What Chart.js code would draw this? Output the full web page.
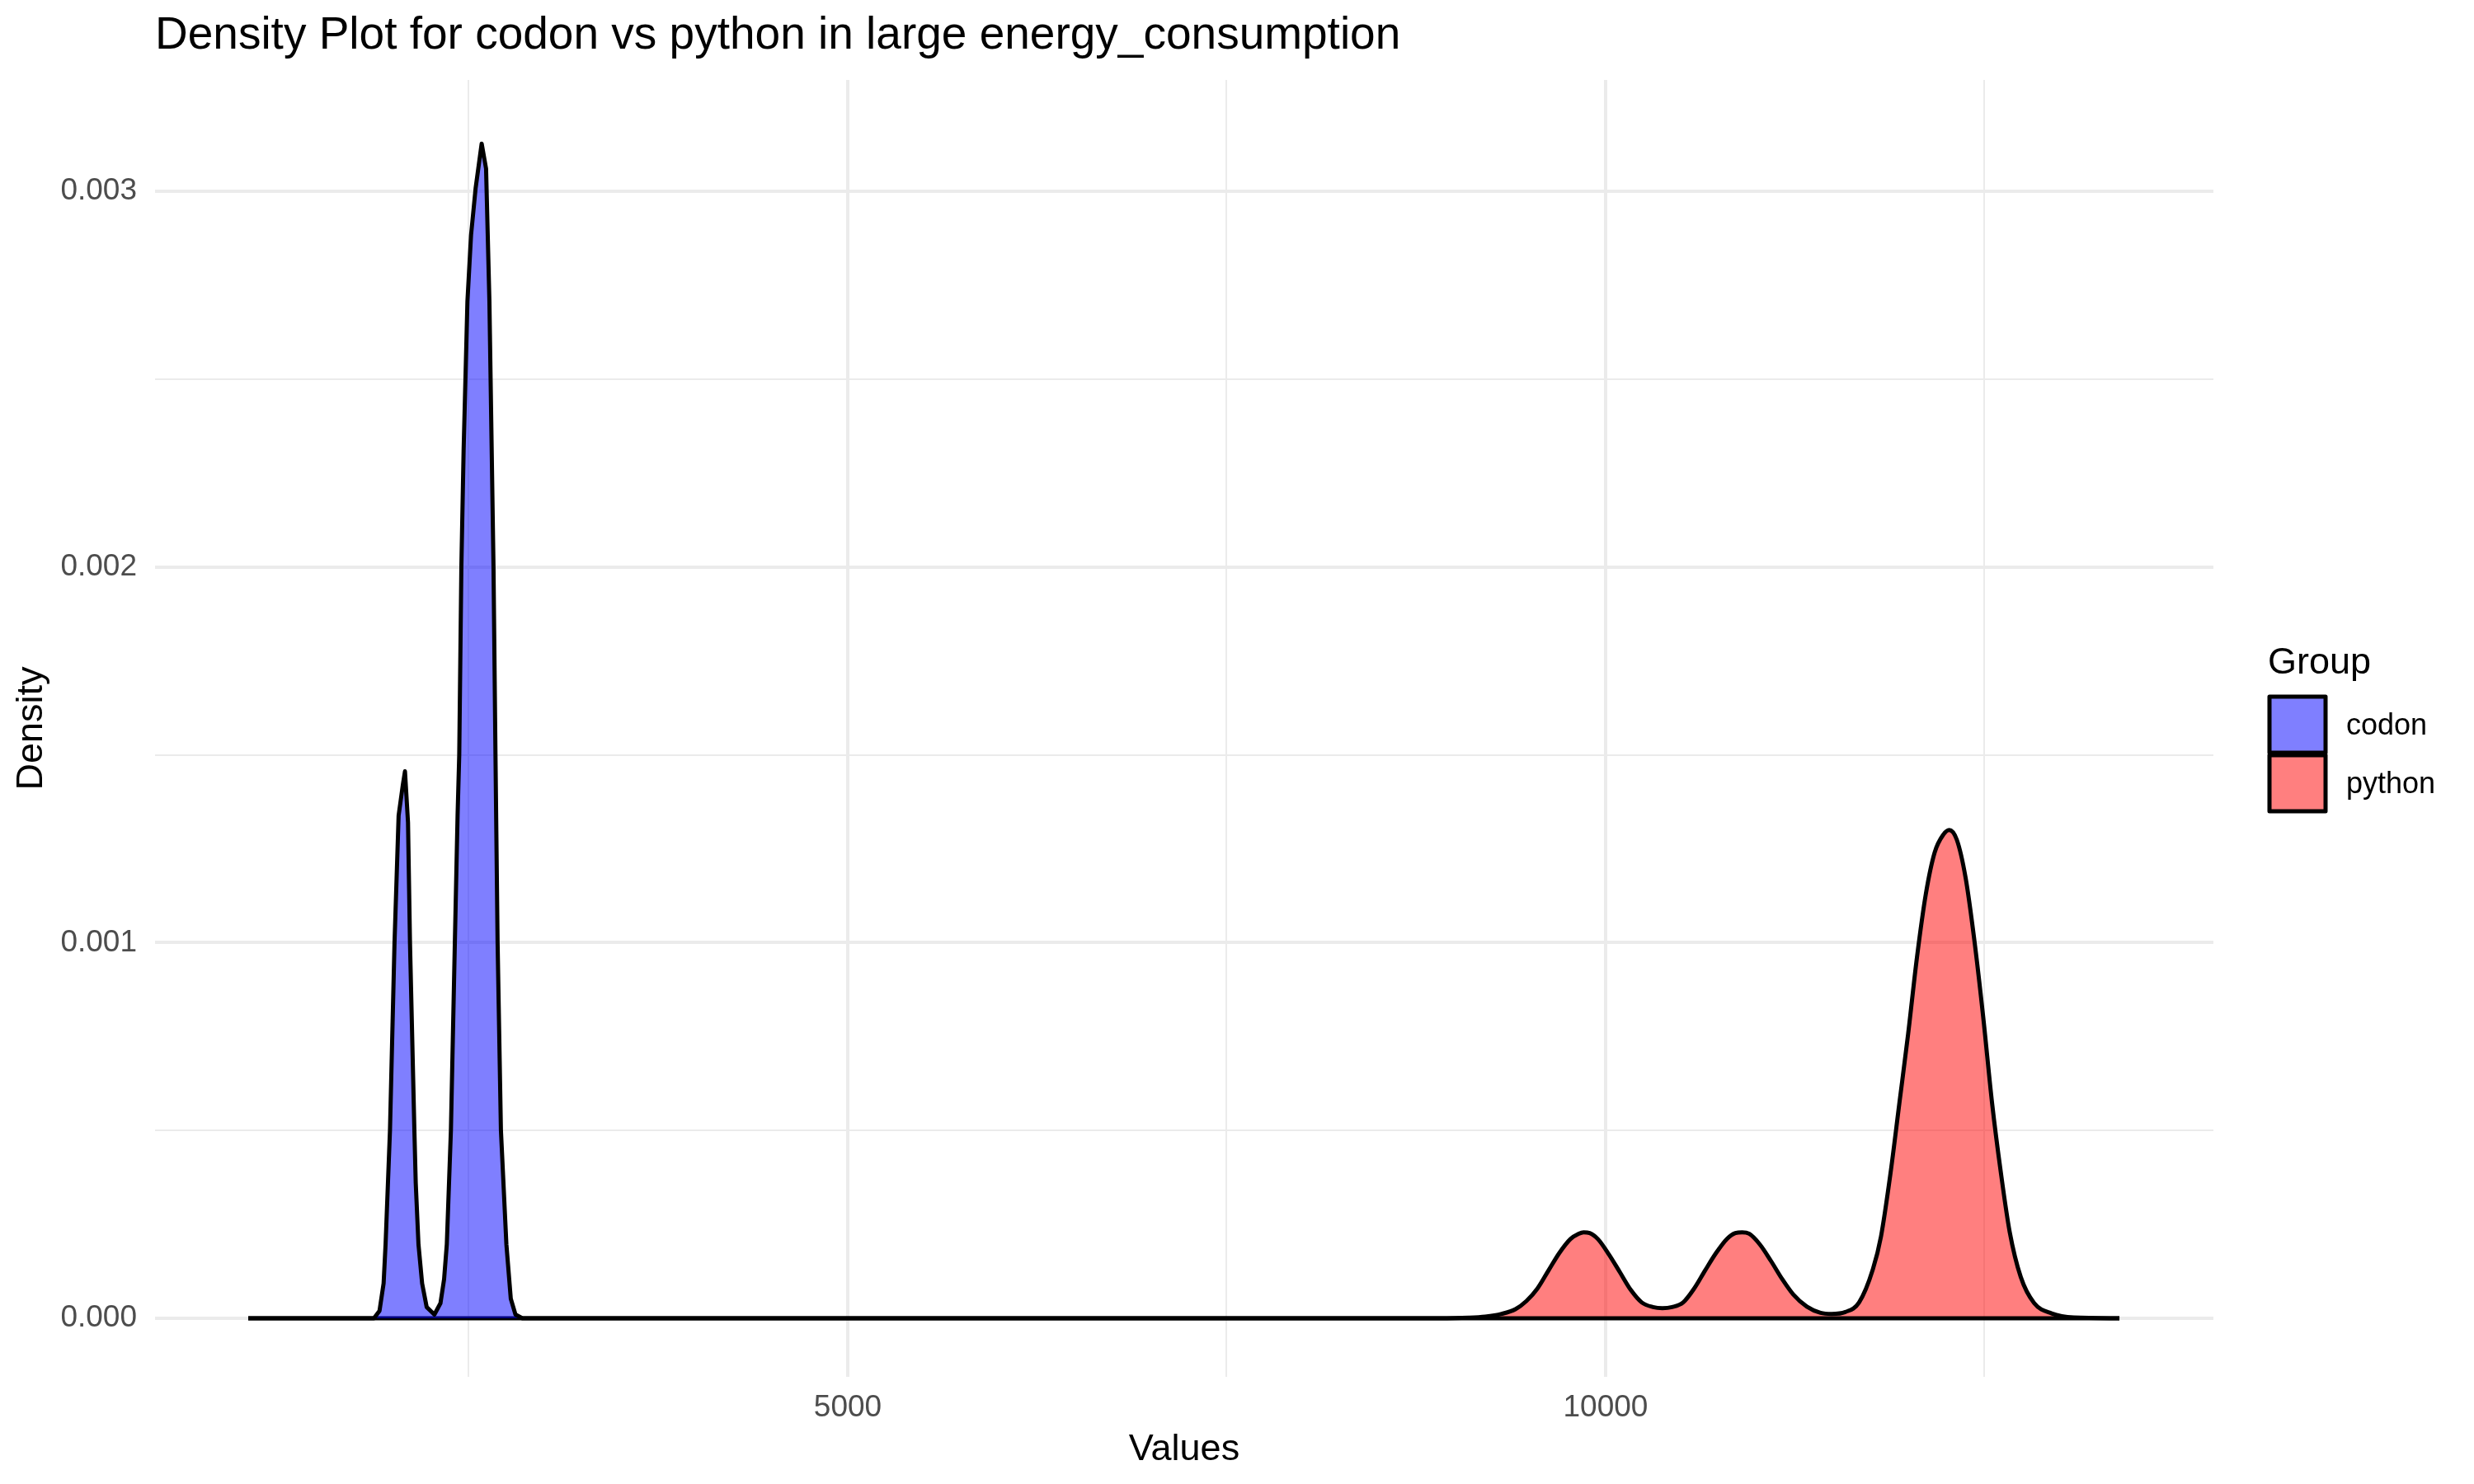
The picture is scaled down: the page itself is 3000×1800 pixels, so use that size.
<!DOCTYPE html>
<html lang="en">
<head>
  <meta charset="UTF-8" />
  <title>Density Plot for codon vs python</title>
  <script src="https://cdn.jsdelivr.net/npm/chart.js"></script>
  <style>
    body { margin: 0; background: #fff; }
    #densityChart { display: block; }
  </style>
</head>
<body>
  <canvas id="densityChart" width="3000" height="1800"></canvas>

  <script>
    // Values
    const groups = ['codon', 'python'];
    const legendTitle = 'Group';

    const codonX = [1045, 1874, 1911, 1938, 1951, 1980, 2010, 2037, 2065, 2079, 2099, 2112, 2141, 2150, 2168, 2192, 2222, 2273,
      2313, 2337, 2355, 2382, 2408, 2426, 2437, 2451, 2466, 2491, 2515, 2545, 2585, 2614, 2636, 2663, 2676, 2690, 2712,
      2748, 2777, 2808, 2854, 13390];
    const codonY = [0, 0, 0.00002, 0.000093, 0.000197, 0.0005, 0.001, 0.001338, 0.00142, 0.001456, 0.00132, 0.001, 0.0005,
      0.00036, 0.000197, 0.000093, 0.00003, 0.00001, 0.00004, 0.000104, 0.000197, 0.0005, 0.001, 0.001338, 0.0015, 0.002,
      0.002313, 0.002707, 0.002884, 0.003008, 0.003127, 0.00306, 0.002707, 0.002, 0.0015, 0.001, 0.0005, 0.000197,
      0.000052, 0.00001, 0, 0];

    const pythonX = [1045, 8900, 9097, 9206, 9314, 9405, 9478, 9550, 9623, 9695, 9768, 9822, 9855, 9895, 9949, 10022, 10094,
      10167, 10239, 10312, 10375, 10439, 10511, 10584, 10656, 10729, 10802, 10856, 10901, 10947, 11019, 11092, 11164,
      11237, 11328, 11418, 11491, 11582, 11672, 11763, 11817, 11880, 11938, 11996, 12054, 12113, 12171, 12229, 12267,
      12317, 12375, 12433, 12491, 12550, 12608, 12666, 12739, 12827, 12943, 13089, 13390];
    const pythonY = [0, 0, 0.0000015, 0.0000044, 0.0000117, 0.0000241, 0.000046, 0.000079, 0.000127, 0.000174, 0.000211,
      0.000225, 0.000229, 0.000227, 0.000211, 0.00017, 0.000123, 0.000075, 0.000042, 0.00003, 0.000027, 0.00003, 0.000042,
      0.000079, 0.000127, 0.000174, 0.000212, 0.000227, 0.000229, 0.000225, 0.000196, 0.000152, 0.000105, 0.000064,
      0.000031, 0.0000146, 0.0000117, 0.0000168, 0.000042, 0.00013, 0.000218, 0.000387, 0.000572, 0.000757, 0.00096,
      0.00113, 0.00124, 0.001288, 0.0013, 0.001274, 0.001173, 0.001006, 0.000803, 0.000572, 0.000387, 0.00023, 0.00011,
      0.0000407, 0.000013, 0.000002, 0];

    // Axis breaks (major ones get a label, the rest are minor grid lines)
    const xTicks = [2500, 5000, 7500, 10000, 12500];
    const xLabelTicks = [5000, 10000];
    const yTicks = [0, 0.0005, 0.001, 0.0015, 0.002, 0.0025, 0.003];
    const yLabelTicks = [0, 0.001, 0.002, 0.003];

    const toPoints = (xs, ys) => xs.map((x, i) => ({ x: x, y: ys[i] }));
    const isMajor = (list, v) => list.some(t => Math.abs(t - v) < 1e-9);

    const FONT = '"Liberation Sans", Arial, Helvetica, sans-serif';
    const GRID = '#EBEBEB';

    // ggplot-style legend on the right
    const sideLegend = {
      id: 'sideLegend',
      afterDraw(chart) {
        const ctx = chart.ctx;
        ctx.save();
        ctx.fillStyle = '#000';
        ctx.font = '45px ' + FONT;
        ctx.textAlign = 'left';
        ctx.textBaseline = 'alphabetic';
        ctx.fillText(legendTitle, 2750, 817);
        chart.data.datasets.forEach((ds, i) => {
          const top = 845 + i * 71;
          ctx.fillStyle = ds.backgroundColor;
          ctx.fillRect(2752, top, 68, 68);
          ctx.lineWidth = 5;
          ctx.lineJoin = 'round';
          ctx.strokeStyle = '#000';
          ctx.strokeRect(2752, top, 68, 68);
          ctx.fillStyle = '#000';
          ctx.font = '36px ' + FONT;
          ctx.textBaseline = 'middle';
          ctx.fillText(ds.label, 2845, top + 36);
        });
        ctx.restore();
      }
    };

    new Chart(document.getElementById('densityChart'), {
      type: 'line',
      data: {
        datasets: [
          {
            label: groups[0],
            data: toPoints(codonX, codonY),
            backgroundColor: 'rgba(0, 0, 255, 0.5)',
            borderColor: '#000',
            borderWidth: 5,
            borderJoinStyle: 'round',
            fill: 'origin',
            tension: 0,
            pointRadius: 0
          },
          {
            label: groups[1],
            data: toPoints(pythonX, pythonY),
            backgroundColor: 'rgba(255, 0, 0, 0.5)',
            borderColor: '#000',
            borderWidth: 5,
            borderJoinStyle: 'round',
            fill: 'origin',
            cubicInterpolationMode: 'monotone',
            pointRadius: 0
          }
        ]
      },
      options: {
        responsive: false,
        devicePixelRatio: 1,
        animation: false,
        layout: { padding: { left: 0, right: 316, top: 0, bottom: 0 } },
        plugins: {
          legend: { display: false },
          tooltip: { enabled: false },
          title: {
            display: true,
            text: 'Density Plot for codon vs python in large energy_consumption',
            align: 'start',
            fullSize: false,
            color: '#000',
            font: { family: FONT, size: 55, weight: 'normal' },
            padding: { top: 11, bottom: 20 }
          }
        },
        scales: {
          x: {
            type: 'linear',
            min: 430,
            max: 14010,
            afterBuildTicks: (scale) => { scale.ticks = xTicks.map(v => ({ value: v })); },
            afterFit: (scale) => { scale.height = 130; },
            border: { display: false },
            grid: {
              color: GRID,
              drawTicks: false,
              lineWidth: (c) => isMajor(xLabelTicks, c.tick.value) ? 4 : 2
            },
            ticks: {
              autoSkip: false,
              maxRotation: 0,
              padding: 16,
              color: '#4D4D4D',
              font: { family: FONT, size: 37 },
              callback: (v) => isMajor(xLabelTicks, v) ? String(v) : ''
            },
            title: {
              display: true,
              text: 'Values',
              color: '#000',
              font: { family: FONT, size: 45 },
              padding: { top: 0, bottom: 14 }
            }
          },
          y: {
            type: 'linear',
            min: -0.0001558,
            max: 0.0032963,
            afterBuildTicks: (scale) => { scale.ticks = yTicks.map(v => ({ value: v })); },
            afterFit: (scale) => { scale.width = 188; },
            border: { display: false },
            grid: {
              color: GRID,
              drawTicks: false,
              lineWidth: (c) => isMajor(yLabelTicks, c.tick.value) ? 4 : 2
            },
            ticks: {
              autoSkip: false,
              padding: 22,
              color: '#4D4D4D',
              font: { family: FONT, size: 37 },
              callback: (v) => isMajor(yLabelTicks, v) ? v.toFixed(3) : ''
            },
            title: {
              display: true,
              text: 'Density',
              color: '#000',
              font: { family: FONT, size: 45 },
              padding: { top: 12, bottom: 0 }
            }
          }
        }
      },
      plugins: [sideLegend]
    });
  </script>
</body>
</html>
